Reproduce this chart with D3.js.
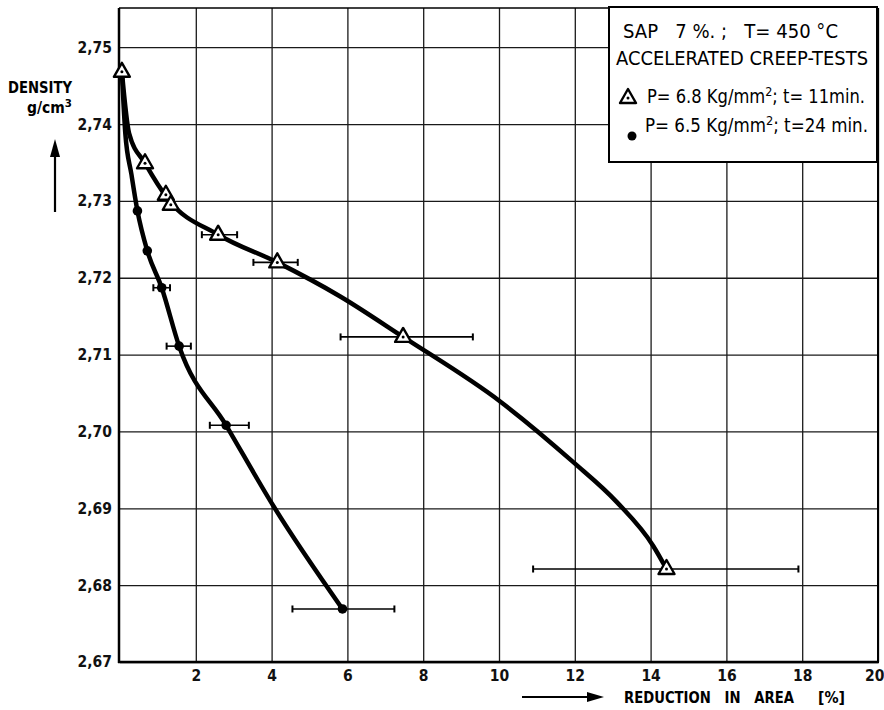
<!DOCTYPE html>
<html>
<head>
<meta charset="utf-8">
<script src="https://cdn.jsdelivr.net/npm/d3@7"></script>
<style>
  body { margin: 0; background: #fff; }
  svg { display: block; }
  .lbl { font-family: "Liberation Sans Narrow", "DejaVu Sans Condensed", "Arial Narrow", "Liberation Sans", sans-serif; }
</style>
</head>
<body>
<svg width="884" height="710"></svg>
<script>
// triangles: P = 6.8 Kg/mm2, t = 11 min
const triX = [0.05, 0.66, 1.21, 1.34, 2.59, 4.15, 7.47, 14.42];
const triY = [2.7468, 2.7349, 2.7308, 2.7295, 2.7256, 2.7220, 2.7123, 2.6821];
const triErrLo = [null, null, null, null, 2.16, 3.52, 5.82, 10.9];
const triErrHi = [null, null, null, null, 3.09, 4.69, 9.31, 17.9];

// dots: P = 6.5 Kg/mm2, t = 24 min
const cirX = [0.46, 0.72, 1.10, 1.56, 2.80, 5.87];
const cirY = [2.7287, 2.7235, 2.7187, 2.7111, 2.7008, 2.6769];
const cirErrLo = [null, null, 0.88, 1.23, 2.37, 4.55];
const cirErrHi = [null, null, 1.32, 1.87, 3.40, 7.24];

// hand drawn fit curves
const triCurveX = [0.05, 0.24, 0.66, 1.27, 2.59, 4.15, 5.8, 7.47, 10.03, 11.96, 13.11, 14.07, 14.42];
const triCurveY = [2.7468, 2.7388, 2.7349, 2.7302, 2.7256, 2.7220, 2.7176, 2.7123, 2.7039, 2.6960, 2.6908, 2.6851, 2.6821];
const cirCurveX = [0.05, 0.14, 0.30, 0.46, 0.72, 1.10, 1.56, 2.80, 4.06, 5.87];
const cirCurveY = [2.7468, 2.7388, 2.7335, 2.7287, 2.7235, 2.7187, 2.7111, 2.7008, 2.6902, 2.6769];

const xTicks = [2, 4, 6, 8, 10, 12, 14, 16, 18, 20];
const yTicks = [2.67, 2.68, 2.69, 2.70, 2.71, 2.72, 2.73, 2.74, 2.75];

const legendLines = ["SAP   7 %. ;   T= 450 °C", "ACCELERATED CREEP-TESTS"];

const pLeft = 120, pRight = 878, pTop = 8, pBottom = 662;

const svg = d3.select('svg');

const x = d3.scaleLinear().domain([0, 20]).range([pLeft, pRight]);
const y = d3.scaleLinear().domain([2.67, 2.7551]).range([pBottom, pTop]);

// grid + tick labels
const gx = svg.append('g')
  .attr('transform', `translate(0,${pBottom})`)
  .call(d3.axisBottom(x).tickValues(xTicks).tickSizeInner(-(pBottom - pTop)).tickSizeOuter(0).tickPadding(8));
const gy = svg.append('g')
  .attr('transform', `translate(${pLeft},0)`)
  .call(d3.axisLeft(y).tickValues(yTicks).tickSizeInner(-(pRight - pLeft)).tickSizeOuter(0).tickPadding(8)
    .tickFormat(d => d3.format('.2f')(d).replace('.', ',')));

[gx, gy].forEach(g => {
  g.select('.domain').remove();
  g.selectAll('line').attr('stroke', '#1a1a1a').attr('stroke-width', 1.3);
  g.selectAll('text')
    .attr('class', 'lbl')
    .attr('font-size', 15.5)
    .attr('font-weight', 'bold')
    .attr('fill', '#111');
});
gx.selectAll('.tick').filter(d => d === 20).select('text').attr('text-anchor', 'end').attr('x', 6);

// frame
svg.append('line').attr('x1', pLeft - 1).attr('x2', pLeft - 1).attr('y1', pTop).attr('y2', pBottom + 1)
  .attr('stroke', '#000').attr('stroke-width', 2.5);
svg.append('line').attr('x1', pLeft - 2).attr('x2', pRight + 1).attr('y1', pBottom).attr('y2', pBottom)
  .attr('stroke', '#000').attr('stroke-width', 2.5);
svg.append('line').attr('x1', pRight).attr('x2', pRight).attr('y1', pTop).attr('y2', pBottom)
  .attr('stroke', '#000').attr('stroke-width', 2);
svg.append('line').attr('x1', pLeft - 1).attr('x2', pRight).attr('y1', pTop).attr('y2', pTop)
  .attr('stroke', '#000').attr('stroke-width', 1.6);

// curves
const line = d3.line().x(d => x(d[0])).y(d => y(d[1])).curve(d3.curveMonotoneX);
svg.append('path')
  .attr('d', line(d3.zip(triCurveX, triCurveY)))
  .attr('fill', 'none').attr('stroke', '#000').attr('stroke-width', 4.5).attr('stroke-linecap', 'round');
svg.append('path')
  .attr('d', line(d3.zip(cirCurveX, cirCurveY)))
  .attr('fill', 'none').attr('stroke', '#000').attr('stroke-width', 4.5).attr('stroke-linecap', 'round');

// error bars
function errBars(xs, ys, lo, hi) {
  const rows = xs.map((v, i) => ({ y: ys[i], lo: lo[i], hi: hi[i] })).filter(d => d.lo != null);
  const g = svg.append('g').attr('stroke', '#000').attr('stroke-width', 1.6);
  g.selectAll('.bar').data(rows).enter().append('line')
    .attr('x1', d => x(d.lo)).attr('x2', d => x(d.hi))
    .attr('y1', d => y(d.y)).attr('y2', d => y(d.y));
  g.selectAll('.capL').data(rows).enter().append('line')
    .attr('x1', d => x(d.lo)).attr('x2', d => x(d.lo))
    .attr('y1', d => y(d.y) - 3.5).attr('y2', d => y(d.y) + 3.5).attr('stroke-width', 2);
  g.selectAll('.capR').data(rows).enter().append('line')
    .attr('x1', d => x(d.hi)).attr('x2', d => x(d.hi))
    .attr('y1', d => y(d.y) - 3.5).attr('y2', d => y(d.y) + 3.5).attr('stroke-width', 2);
}
errBars(triX, triY, triErrLo, triErrHi);
errBars(cirX, cirY, cirErrLo, cirErrHi);

// markers
const triPath = 'M0,-9L8,5L-8,5Z';
function triangle(g, cx, cy) {
  g.append('path').attr('d', triPath).attr('transform', `translate(${cx},${cy})`)
    .attr('fill', '#fff').attr('stroke', '#000').attr('stroke-width', 2.4).attr('stroke-linejoin', 'round');
  g.append('circle').attr('cx', cx).attr('cy', cy).attr('r', 1.5).attr('fill', '#000');
}
const tg = svg.append('g');
triX.forEach((v, i) => triangle(tg, x(v), y(triY[i])));

svg.append('g').selectAll('circle')
  .data(d3.zip(cirX, cirY)).enter().append('circle')
  .attr('cx', d => x(d[0])).attr('cy', d => y(d[1])).attr('r', 4.8).attr('fill', '#000');

// legend box
const lg = svg.append('g');
lg.append('rect').attr('x', 609).attr('y', 7).attr('width', 268).attr('height', 155)
  .attr('fill', '#fff').attr('stroke', '#000').attr('stroke-width', 2);
lg.append('text').attr('class', 'lbl').attr('x', 623).attr('y', 38).attr('font-size', 19)
  .attr('textLength', 215).attr('lengthAdjust', 'spacingAndGlyphs').attr('xml:space', 'preserve')
  .style('white-space', 'pre').text(legendLines[0]);
lg.append('text').attr('class', 'lbl').attr('x', 616).attr('y', 65).attr('font-size', 19)
  .attr('textLength', 252).attr('lengthAdjust', 'spacingAndGlyphs').text(legendLines[1]);

function legendEntry(yy, x0, len, a, b) {
  const t = lg.append('text').attr('class', 'lbl').attr('x', x0).attr('y', yy).attr('font-size', 19)
    .attr('textLength', len).attr('lengthAdjust', 'spacingAndGlyphs');
  t.append('tspan').text(a);
  t.append('tspan').attr('dy', -7).attr('font-size', 13).text('2');
  t.append('tspan').attr('dy', 7).text(b);
}
triangle(lg, 628, 98);
legendEntry(103, 647, 218, 'P= 6.8 Kg/mm', '; t= 11min.');
lg.append('circle').attr('cx', 632).attr('cy', 136).attr('r', 4.5).attr('fill', '#000');
legendEntry(132, 645, 223, 'P= 6.5 Kg/mm', '; t=24 min.');

// axis titles
svg.append('text').attr('class', 'lbl').attr('x', 8).attr('y', 93).attr('font-size', 15)
  .attr('font-weight', 'bold').attr('textLength', 64).attr('lengthAdjust', 'spacingAndGlyphs').text('DENSITY');
const gcm = svg.append('text').attr('class', 'lbl').attr('x', 27).attr('y', 113).attr('font-size', 15)
  .attr('font-weight', 'bold').attr('textLength', 45).attr('lengthAdjust', 'spacingAndGlyphs');
gcm.append('tspan').text('g/cm');
gcm.append('tspan').attr('dy', -6).attr('font-size', 11).text('3');

svg.append('line').attr('x1', 55).attr('x2', 55).attr('y1', 212).attr('y2', 154)
  .attr('stroke', '#000').attr('stroke-width', 2.2);
svg.append('path').attr('d', 'M55,139L60,157L50,157Z').attr('fill', '#000');

svg.append('line').attr('x1', 522).attr('x2', 590).attr('y1', 697).attr('y2', 697)
  .attr('stroke', '#000').attr('stroke-width', 2.2);
svg.append('path').attr('d', 'M604,697L587,692L587,702Z').attr('fill', '#000');

svg.append('text').attr('class', 'lbl').attr('x', 624).attr('y', 703).attr('font-size', 15)
  .attr('font-weight', 'bold').attr('textLength', 170).attr('lengthAdjust', 'spacingAndGlyphs')
  .attr('xml:space', 'preserve').style('white-space', 'pre').text('REDUCTION   IN   AREA');
svg.append('text').attr('class', 'lbl').attr('x', 818).attr('y', 703).attr('font-size', 15)
  .attr('font-weight', 'bold').attr('textLength', 27).attr('lengthAdjust', 'spacingAndGlyphs').text('[%]');
</script>
</body>
</html>
